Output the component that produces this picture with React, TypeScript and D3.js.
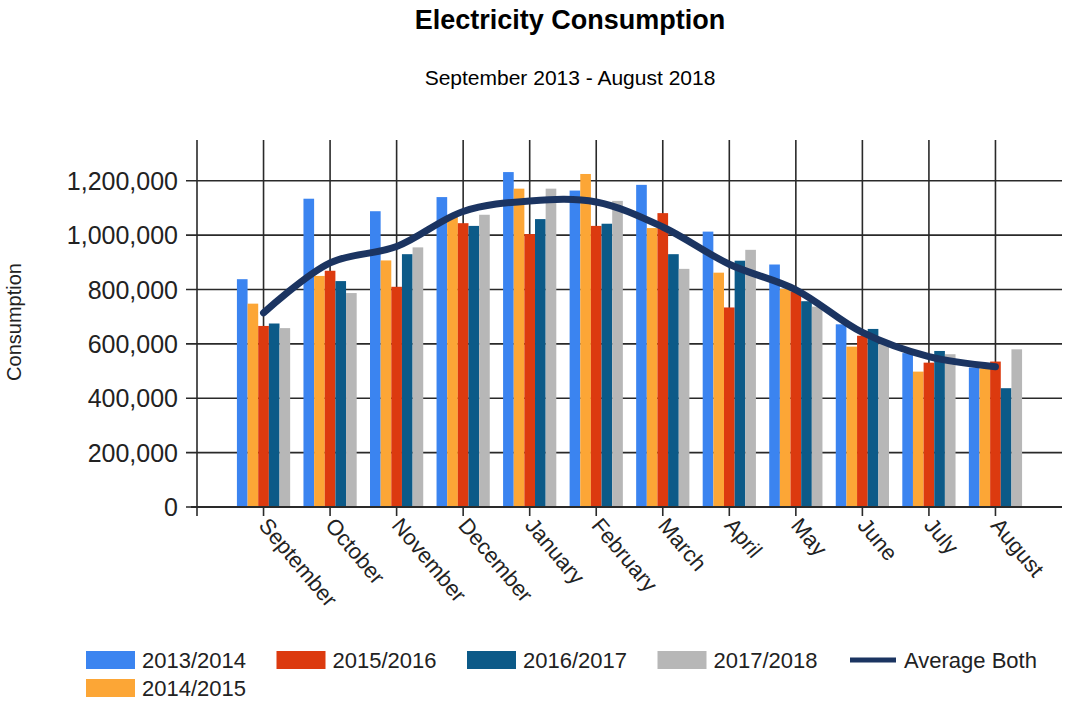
import { useEffect, useRef } from "react";
import * as d3 from "d3";

const months = ["September", "October", "November", "December", "January", "February", "March", "April", "May", "June", "July", "August"];
const s2013 = [838000, 1134000, 1088000, 1140000, 1232000, 1164000, 1185000, 1013000, 892000, 672000, 566000, 513000];
const s2014 = [748000, 850000, 907000, 1070000, 1171000, 1225000, 1026000, 862000, 802000, 590000, 498000, 510000];
const s2015 = [666000, 869000, 810000, 1044000, 1004000, 1034000, 1081000, 734000, 793000, 630000, 531000, 535000];
const s2016 = [675000, 831000, 930000, 1034000, 1059000, 1042000, 930000, 906000, 757000, 655000, 574000, 437000];
const s2017 = [658000, 787000, 955000, 1075000, 1171000, 1126000, 876000, 946000, 737000, 600000, 562000, 580000];
const averageBoth = [714000, 898000, 958000, 1087000, 1126000, 1122000, 1030000, 893000, 799000, 642000, 553000, 516000];
const yTicks = [0, 200000, 400000, 600000, 800000, 1000000, 1200000];

const series = [
  { name: "2013/2014", values: s2013, color: "#3b84f0" },
  { name: "2014/2015", values: s2014, color: "#fca636" },
  { name: "2015/2016", values: s2015, color: "#dc3a0f" },
  { name: "2016/2017", values: s2016, color: "#0c5a88" },
  { name: "2017/2018", values: s2017, color: "#b7b7b7" },
];

const FONT = "'Liberation Sans', Arial, sans-serif";

function App() {
  const ref = useRef<SVGSVGElement>(null);

  useEffect(() => {
    const width = 1067, height = 702;
    const left = 197, right = 1062, top = 140, bottom = 507;

    const svg = d3.select(ref.current);
    svg.selectAll("*").remove();
    svg.attr("width", width).attr("height", height);

    // x: one point per month, a full step of padding each side
    const x = d3.scalePoint<string>().domain(months).range([left, right]).padding(1);
    const step = x.step();
    const xs = d3.scaleBand<string>()
      .domain(series.map((d) => d.name))
      .range([-step * 0.4, step * 0.4]);

    const y = d3.scaleLinear().domain([0, 1350000]).range([bottom, top]);

    const grid = svg.append("g").attr("stroke", "#2a2a2a").attr("stroke-width", 1.6);

    // horizontal grid
    grid.selectAll("line.h")
      .data(yTicks)
      .join("line")
      .attr("x1", left - 11)
      .attr("x2", right)
      .attr("y1", (d) => y(d))
      .attr("y2", (d) => y(d));

    // vertical grid
    grid.selectAll("line.v")
      .data(months)
      .join("line")
      .attr("x1", (d) => x(d)!)
      .attr("x2", (d) => x(d)!)
      .attr("y1", top)
      .attr("y2", bottom + 9);

    grid.append("line")
      .attr("x1", left).attr("x2", left)
      .attr("y1", top).attr("y2", bottom + 9);

    // bars
    series.forEach((s) => {
      svg.append("g")
        .attr("fill", s.color)
        .selectAll("rect")
        .data(s.values)
        .join("rect")
        .attr("x", (d, i) => x(months[i])! + xs(s.name)!)
        .attr("y", (d) => y(d))
        .attr("width", xs.bandwidth())
        .attr("height", (d) => y(0) - y(d));
    });

    // x axis line on top of bars
    svg.append("line")
      .attr("x1", left - 6).attr("x2", right)
      .attr("y1", bottom).attr("y2", bottom)
      .attr("stroke", "#2a2a2a").attr("stroke-width", 1.8);

    // average line
    const line = d3.line<number>()
      .x((d, i) => x(months[i])!)
      .y((d) => y(d))
      .curve(d3.curveCatmullRom.alpha(0.5));

    svg.append("path")
      .datum(averageBoth)
      .attr("d", line)
      .attr("fill", "none")
      .attr("stroke", "#1b3461")
      .attr("stroke-width", 7)
      .attr("stroke-linecap", "round")
      .attr("stroke-linejoin", "round");

    // y tick labels
    svg.append("g")
      .selectAll("text")
      .data(yTicks)
      .join("text")
      .attr("x", 178)
      .attr("y", (d) => y(d))
      .attr("dy", "0.36em")
      .attr("text-anchor", "end")
      .attr("font-family", FONT)
      .attr("font-size", 25)
      .attr("fill", "#222")
      .text((d) => d3.format(",")(d));

    // x tick labels
    svg.append("g")
      .selectAll("text")
      .data(months)
      .join("text")
      .attr("transform", (d) => `translate(${x(d)! + 6},${bottom + 9}) rotate(50)`)
      .attr("dy", "0.7em")
      .attr("text-anchor", "start")
      .attr("font-family", FONT)
      .attr("font-size", 22)
      .attr("fill", "#222")
      .text((d) => d);

    // y axis title
    svg.append("text")
      .attr("transform", `translate(21,322) rotate(-90)`)
      .attr("text-anchor", "middle")
      .attr("font-family", FONT)
      .attr("font-size", 20)
      .attr("fill", "#222")
      .text("Consumption");

    // titles
    svg.append("text")
      .attr("x", 570).attr("y", 29)
      .attr("text-anchor", "middle")
      .attr("font-family", FONT)
      .attr("font-weight", "bold")
      .attr("font-size", 27)
      .attr("fill", "#000")
      .text("Electricity Consumption");

    svg.append("text")
      .attr("x", 570).attr("y", 85)
      .attr("text-anchor", "middle")
      .attr("font-family", FONT)
      .attr("font-size", 21)
      .attr("fill", "#000")
      .text("September 2013 - August 2018");

    // legend (column-major, two rows)
    const legendItems = [
      { name: "2013/2014", color: series[0].color, col: 0, row: 0, kind: "rect" },
      { name: "2014/2015", color: series[1].color, col: 0, row: 1, kind: "rect" },
      { name: "2015/2016", color: series[2].color, col: 1, row: 0, kind: "rect" },
      { name: "2016/2017", color: series[3].color, col: 2, row: 0, kind: "rect" },
      { name: "2017/2018", color: series[4].color, col: 3, row: 0, kind: "rect" },
      { name: "Average Both", color: "#1b3461", col: 4, row: 0, kind: "line" },
    ];
    const lg = svg.append("g");
    legendItems.forEach((it) => {
      const gx = 86 + it.col * 190.5;
      const gy = 660 + it.row * 28;
      const g = lg.append("g").attr("transform", `translate(${gx},${gy})`);
      if (it.kind === "rect") {
        g.append("rect").attr("x", 0).attr("y", -9).attr("width", 49).attr("height", 18).attr("fill", it.color);
      } else {
        g.append("line").attr("x1", 2).attr("x2", 48).attr("y1", 0).attr("y2", 0)
          .attr("stroke", it.color).attr("stroke-width", 5);
      }
      g.append("text")
        .attr("x", 56)
        .attr("y", 0)
        .attr("dy", "0.36em")
        .attr("font-family", FONT)
        .attr("font-size", 22)
        .attr("fill", "#222")
        .text(it.name);
    });
  }, []);

  return (
    <div style={{ position: "absolute", left: 0, top: 0 }}>
      <svg ref={ref} />
    </div>
  );
}

export default App;
